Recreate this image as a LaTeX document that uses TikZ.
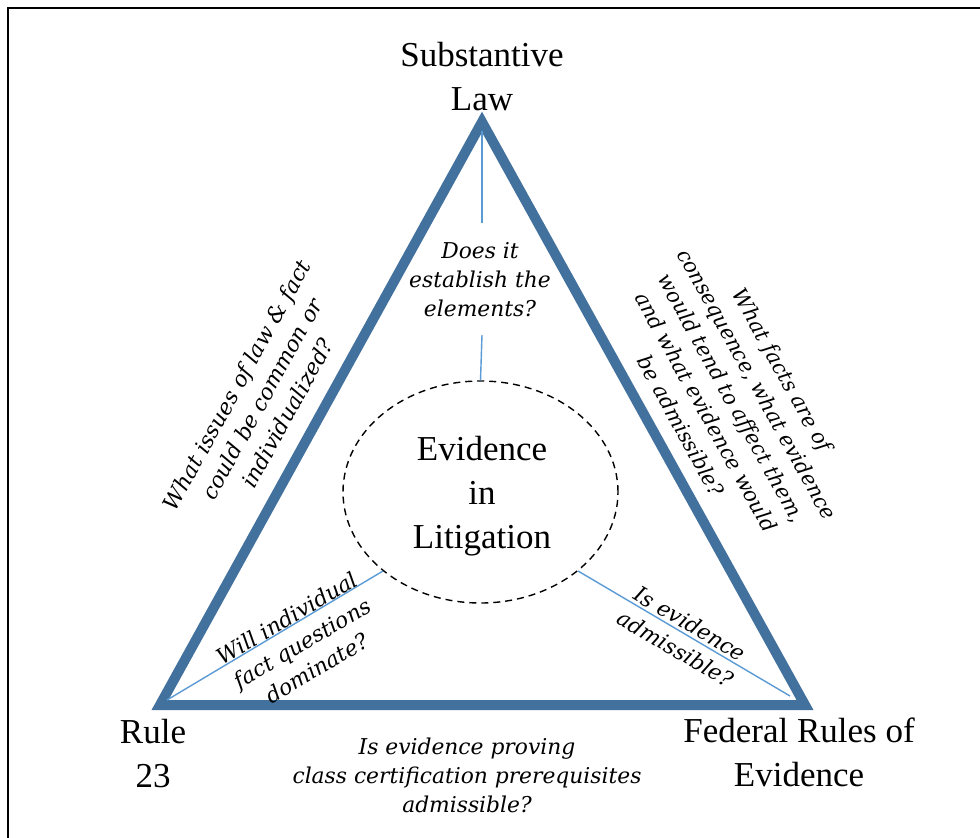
\documentclass[tikz,border=0pt]{standalone}
\usepackage{fontspec}
\setmainfont{Liberation Serif}
\newfontfamily\qfont{DejaVu Serif}
\usetikzlibrary{shapes.geometric}
\definecolor{triblue}{HTML}{41719C}
\definecolor{thinblue}{HTML}{5B9BD5}
\tikzset{
  tri/.style={draw=triblue, line width=10pt, line join=miter},
  thinln/.style={draw=thinblue, line width=1.4pt},
  mainlbl/.style={align=center, inner sep=0pt, font=\fontsize{35}{44}\selectfont},
  qlbl/.style={align=center, inner sep=0pt, font=\qfont\itshape\fontsize{21.8}{29}\selectfont},
  qlblr/.style={align=center, inner sep=0pt, font=\qfont\itshape\fontsize{21}{29}\selectfont},
  frameln/.style={draw=black, line width=2.5pt}
}
\begin{document}
\begin{tikzpicture}[x=1pt,y=-1pt]
\useasboundingbox[fill=white] (0,0) rectangle (980,838);
\draw[frameln] (8,842) -- (8,8) -- (984,8);
% triangle vertices
\coordinate (A) at (482,122);
\coordinate (B) at (160,705);
\coordinate (C) at (805,705);
\draw[tri] (A) -- (B) -- (C) -- cycle;
% inner points
\coordinate (Ai) at (482,131);
\coordinate (Ai2) at (482,223);
\coordinate (Bi) at (167,700);
\coordinate (Ci) at (790,696);
\coordinate (Et) at (482,335);
% ellipse
\node[draw=black, dashed, dash pattern=on 7pt off 5pt, line width=1.4pt, ellipse, minimum width=275pt, minimum height=222pt, inner sep=0pt] (E) at (480.5,492) {};
\node[mainlbl] (ET) at (482,496) {Evidence\\in\\Litigation};
% thin connectors
\draw[thinln] (Ai) -- (Ai2);
\draw[thinln] (Et) -- (E.north);
\draw[thinln] (Bi) -- (E.219);
\draw[thinln] (E.321) -- (Ci);
% main labels
\node[mainlbl] (SL) at (482,77) {Substantive\\Law};
\node[mainlbl] (R23) at (153,754) {Rule\\23};
\node[mainlbl] (FRE) at (799,752) {Federal Rules of\\Evidence};
% questions
\node[qlbl] (Q1) at (480,280) {Does it\\establish the\\elements?};
\node[qlbl, rotate=61.1] (Q2) at (262,399) {What issues of law \& fact\\could be common or\\individualized?};
\node[qlblr, rotate=-61.1] (Q3) at (732,398) {What facts are of\\consequence, what evidence\\would tend to affect them,\\and what evidence would\\be admissible?};
\node[qlbl, rotate=30.6] (Q4) at (302,643) {Will individual\\fact questions\\dominate?};
\node[qlbl, rotate=-30.6] (Q5) at (683,636) {Is evidence\\admissible?};
\node[qlbl] (Q6) at (467,775) {Is evidence proving\\class certification prerequisites\\admissible?};
\end{tikzpicture}
\end{document}
